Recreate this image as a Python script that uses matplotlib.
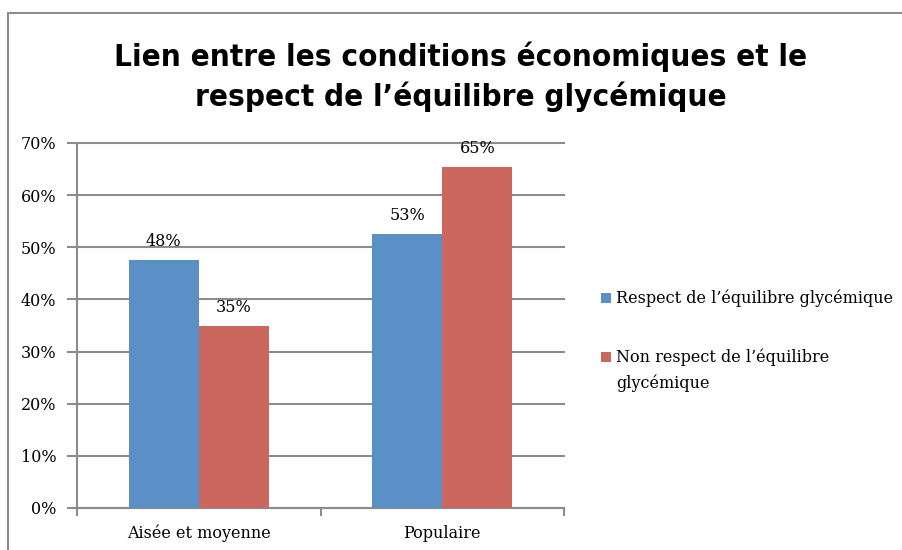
import numpy as np
import matplotlib.pyplot as plt
from matplotlib.patches import Rectangle

# données
categories = ["Aisée et moyenne", "Populaire"]
respect = [0.476, 0.526]
non_respect = [0.349, 0.654]
series_labels = ["Respect de l’équilibre glycémique",
                 "Non respect de l’équilibre\nglycémique"]
yticks = [0, 0.1, 0.2, 0.3, 0.4, 0.5, 0.6, 0.7]

bleu = "#5B90C7"
rouge = "#CC6760"
gris = "#8c8c8c"
serif = "DejaVu Serif"
fs = 11.5

fig = plt.figure(figsize=(9.03, 5.5), dpi=100)
ax = fig.add_axes([77/903, 42/550, (564-77)/903, (508-143)/550])

x = np.arange(len(categories))
w = 0.2875
b1 = ax.bar(x - w/2, respect, w, color=bleu, label=series_labels[0], zorder=3)
b2 = ax.bar(x + w/2, non_respect, w, color=rouge, label=series_labels[1], zorder=3)

for bars in (b1, b2):
    ax.bar_label(bars, labels=["{:.0%}".format(v) for v in bars.datavalues],
                 padding=7, fontsize=fs, family=serif)

ax.set_xlim(-0.5, 1.5)
ax.set_ylim(0, 0.7)
ax.set_yticks(yticks)
ax.set_yticklabels(["{:.0%}".format(t) for t in yticks], family=serif, fontsize=fs)
ax.set_xticks([-0.5, 0.5, 1.5])
ax.set_xticklabels([])
ax.set_xticks(x, minor=True)
ax.set_xticklabels(categories, minor=True, family=serif, fontsize=fs)
ax.tick_params(axis="x", which="minor", length=0, pad=12)
ax.tick_params(axis="x", which="major", length=6, color=gris, width=1.5, direction="out")
ax.tick_params(axis="y", length=7, color=gris, width=1.5, pad=8)

ax.yaxis.grid(True, color=gris, linewidth=1.5, zorder=0)
for gl in ax.get_ygridlines():
    gl.set_clip_on(False)
for s in ("top", "right"):
    ax.spines[s].set_visible(False)
for s in ("left", "bottom"):
    ax.spines[s].set_color(gris)
    ax.spines[s].set_linewidth(1.5)

# titre
titre = ["Lien entre les conditions économiques et le",
         "respect de l’équilibre glycémique"]
for i, ligne in enumerate(titre):
    fig.text(461/903, 1 - (57 + 40*i)/550, ligne,
             ha="center", va="center", fontsize=22.5, fontweight="bold",
             family="DejaVu Sans", stretch="condensed")

# légende (carré aligné sur la première ligne du texte)
leg_y = [298, 357]
for lab, col, yy in zip(series_labels, [bleu, rouge], leg_y):
    fig.patches.append(Rectangle((601/903, 1 - (yy + 5)/550), 10/903, 10/550,
                                 transform=fig.transFigure, facecolor=col,
                                 edgecolor="none"))
    fig.text(616/903, 1 - (yy - 9)/550, lab, ha="left", va="top",
             family=serif, fontsize=fs, linespacing=1.65)

# cadre
fig.patches.append(Rectangle((8/903, -0.1), 1.1, 1 - 13/550 + 0.1,
                             transform=fig.transFigure, fill=False,
                             edgecolor=gris, linewidth=1.5))

plt.savefig("out.png")
